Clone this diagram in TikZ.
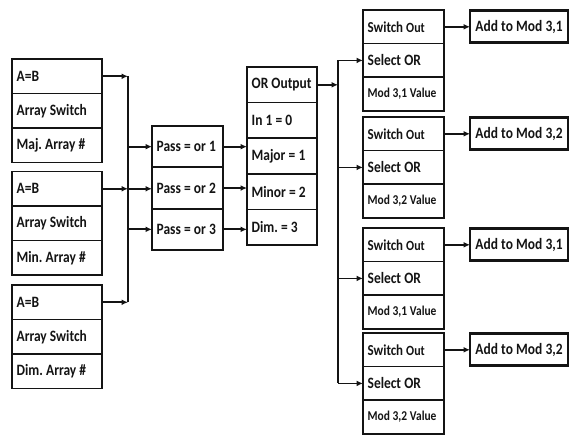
\documentclass[tikz,border=0pt]{standalone}
\usepackage{fontspec}
\setmainfont{Carlito}[FakeStretch=0.85]
\usepackage{tikz}
\usetikzlibrary{arrows.meta, positioning}
\definecolor{myink}{RGB}{20,20,20}
\tikzset{
  cell/.style={rectangle, draw=myink, fill=white, line width=1.5pt,
    outer sep=0pt, inner xsep=4pt, inner ysep=2pt, align=left, anchor=north,
    font=\bfseries\fontsize{13.5}{15}\selectfont, text=myink,
    execute at begin node={\frenchspacing\spaceskip=0.2em\leavevmode\hbox\bgroup},
    execute at end node=\egroup},
  incell/.style={cell, minimum width=2.7cm, text width=2.42cm, minimum height=1.035cm},
  passcell/.style={cell, minimum width=2.13cm, text width=1.85cm, minimum height=1.24cm},
  orcell/.style={cell, minimum width=2.1cm, text width=1.82cm, minimum height=1.068cm},
  outcell/.style={cell, minimum width=2.43cm, text width=2.15cm, minimum height=1.008cm},
  addbox/.style={cell, line width=2.4pt, minimum width=2.94cm, minimum height=0.96cm,
    align=center, text width=},
  arrow/.style={-{Latex[length=5.5pt, width=5pt]}, line width=1.5pt, color=myink},
  line/.style={line width=1.5pt, color=myink}
}

\begin{document}
\begin{tikzpicture}[x=0.03cm, y=-0.03cm]
  \useasboundingbox (0,0) rectangle (570,435);

  % Input stacks
  \node[incell] (a1) at (57,59) {A=B};
  \node[incell, below=0pt of a1] (sw1) {Array Switch};
  \node[incell, below=0pt of sw1] (maj) {Maj. Array \#};

  \node[incell] (a2) at (57,171.5) {A=B};
  \node[incell, below=0pt of a2] (sw2) {Array Switch};
  \node[incell, below=0pt of sw2] (mnr) {Min. Array \#};

  \node[incell] (a3) at (57,285) {A=B};
  \node[incell, below=0pt of a3] (sw3) {Array Switch};
  \node[incell, below=0pt of sw3] (dim) {Dim. Array \#};

  % Pass column
  \node[passcell] (p1) at (187.5,126) {Pass = or 1};
  \node[passcell, below=0pt of p1] (p2) {Pass = or 2};
  \node[passcell, below=0pt of p2] (p3) {Pass = or 3};

  % OR column
  \node[orcell] (oro) at (282,67) {OR Output};
  \node[orcell, below=0pt of oro] (in1) {In 1 = 0};
  \node[orcell, below=0pt of in1] (or1) {Major = 1};
  \node[orcell, below=0pt of or1] (or2) {Minor = 2};
  \node[orcell, below=0pt of or2] (or3) {Dim. = 3};

  % Output groups
  \foreach \i/\y/\m in {1/10/1, 2/117/2, 3/228/1, 4/333/2} {
    \node[outcell, font=\bfseries\fontsize{13}{15}\selectfont] (so\i) at (403.5,\y) {Switch {\fontsize{12}{14}\selectfont Out}};
    \node[outcell, below=0pt of so\i] (sel\i) {Select OR};
    \node[outcell, below=0pt of sel\i, font=\bfseries\fontsize{11.5}{13}\selectfont] (val\i) {Mod 3,\m{} Value};
    \node[addbox, right=0.78cm of so\i] (add\i) {Add to Mod 3,\m};
    \draw[arrow] (so\i) -- (add\i);
  }

  % Buses
  \coordinate (lbus) at (128,0);
  \coordinate (rbus) at (338,0);

  \draw[arrow] (a1.east) -- (a1.east -| lbus);
  \draw[arrow] (a2.east) -- (a2.east -| lbus);
  \draw[arrow] (a3.east) -- (a3.east -| lbus);
  \draw[line] (a1.east -| lbus) -- (a3.east -| lbus);

  \draw[arrow] (p1.west -| lbus) -- (p1.west);
  \draw[arrow] (a2.east -| lbus) -- (a2.east -| p2.west);
  \draw[arrow] (p3.west -| lbus) -- (p3.west);

  \draw[arrow] (p1.east) -- (p1.east -| oro.west);
  \draw[arrow] (p2.east) -- (p2.east -| oro.west);
  \draw[arrow] (p3.east) -- (p3.east -| oro.west);

  \draw[arrow] (oro.east) -- (oro.east -| rbus);
  \draw[line] (sel1.west -| rbus) -- (sel4.west -| rbus);
  \foreach \i in {1,...,4}
    \draw[arrow] (sel\i.west -| rbus) -- (sel\i.west);
\end{tikzpicture}
\end{document}
